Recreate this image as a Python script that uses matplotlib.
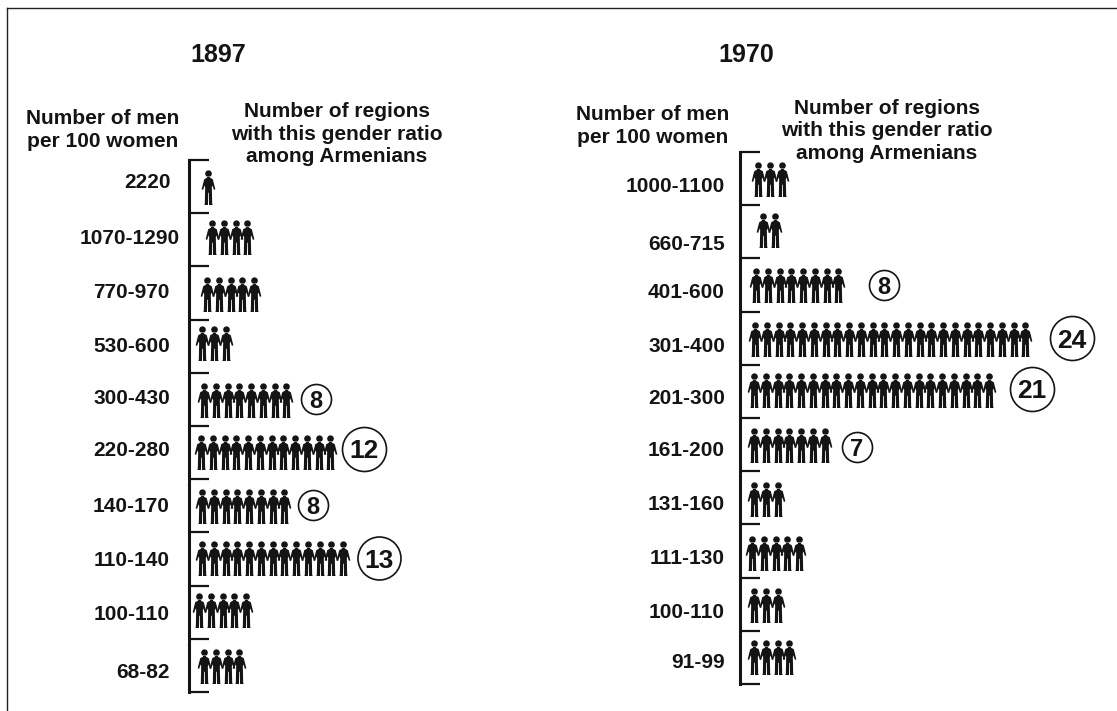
import numpy as np
import matplotlib
matplotlib.use("Agg")
import matplotlib.pyplot as plt
from matplotlib.path import Path
from matplotlib.lines import Line2D

plt.rcParams['font.family'] = ['Liberation Sans', 'DejaVu Sans']
plt.rcParams['font.weight'] = 'bold'

W, H = 1117, 711
INK = '#141414'

# data
ratios_1897 = ['2220', '1070-1290', '770-970', '530-600', '300-430',
               '220-280', '140-170', '110-140', '100-110', '68-82']
regions_1897 = [1, 4, 5, 3, 8, 12, 8, 13, 5, 4]
ratios_1970 = ['1000-1100', '660-715', '401-600', '301-400', '201-300',
               '161-200', '131-160', '111-130', '100-110', '91-99']
regions_1970 = [3, 2, 8, 24, 21, 7, 3, 5, 3, 4]

# layout, in pixels of the scan (rows are a bit uneven there)
PERSON_STEP = 11.75
left_1897 = dict(spine=189, top=160, bottom=692,
                 start=[208, 212, 207, 202, 204, 201, 202, 202, 199, 204],
                 person_y=[187, 237, 294, 343, 400, 452, 506, 558, 610, 666],
                 label_y=[183, 239, 293, 347, 398, 451, 506, 560, 615, 672],
                 label_r=[171, 180, 170, 170, 170, 170, 170, 170, 170, 170],
                 badges={4: (316, 399, 15), 5: (364, 449, 22),
                         6: (313, 505, 15), 7: (379, 558, 21.5)})
left_1970 = dict(spine=740, top=152, bottom=684,
                 start=[758, 763, 756, 755, 754, 754, 754, 752, 754, 754],
                 person_y=[179, 230, 285, 339, 390, 445, 499, 553, 605, 657],
                 label_y=[187, 245, 293, 347, 398, 451, 505, 558, 612, 663],
                 label_r=[725] * 10,
                 badges={2: (884, 285, 15), 3: (1072, 338, 22),
                         4: (1032, 389, 22), 5: (857, 447, 15)})


def make_person():
    # little figure holding hands, y from -1 to 1
    head = Path.circle((0, 0.79), 0.19)
    body = [(-0.07, 0.62), (0.07, 0.62), (0.10, 0.55), (0.24, 0.48), (0.29, 0.30),
            (0.39, -0.10), (0.31, -0.14), (0.22, 0.12), (0.19, 0.02), (0.21, -0.93),
            (0.24, -1.0), (0.03, -1.0), (0.02, -0.30), (-0.02, -0.30), (-0.03, -1.0),
            (-0.24, -1.0), (-0.21, -0.93), (-0.19, 0.02), (-0.22, 0.12), (-0.31, -0.14),
            (-0.39, -0.10), (-0.29, 0.30), (-0.24, 0.48), (-0.10, 0.55), (-0.07, 0.62)]
    return Path.make_compound_path(head, Path(body, closed=True))


person = make_person()
fig = plt.figure(figsize=(W / 100, H / 100), dpi=100, facecolor='white')


def draw_panel(ratios, regions, lay, right):
    left, top, bottom = lay['spine'], lay['top'], lay['bottom']
    ax = fig.add_axes([left / W, 1 - bottom / H, (right - left) / W, (bottom - top) / H])
    ax.patch.set_alpha(0)
    ax.set_xlim(0, (right - left) / PERSON_STEP)
    ax.set_ylim(len(ratios), 0)
    for s in ['top', 'right', 'bottom']:
        ax.spines[s].set_visible(False)
    ax.spines['left'].set_linewidth(2.2)
    ax.spines['left'].set_color(INK)
    ax.set_yticks(np.arange(len(ratios) + 1))
    ax.set_yticklabels([])
    ax.set_xticks([])
    ax.tick_params(axis='y', direction='in', length=14.5, width=1.6, color=INK)

    row_h = (bottom - top) / len(ratios)
    for i, (lab, n) in enumerate(zip(ratios, regions)):
        x0 = (lay['start'][i] - left) / PERSON_STEP
        y0 = (lay['person_y'][i] - top) / row_h
        ax.scatter(x0 + np.arange(n), np.full(n, y0), marker=person, s=635,
                   color=INK, linewidths=0, clip_on=False)
        ax.text((lay['label_r'][i] - left) / PERSON_STEP, (lay['label_y'][i] - top) / row_h,
                lab, ha='right', va='center', fontsize=15, color=INK, clip_on=False)
        if i in lay['badges']:
            bx, by, r = lay['badges'][i]
            bx = (bx - left) / PERSON_STEP
            by = (by - top) / row_h
            ax.scatter([bx], [by], s=(2 * r * 0.72) ** 2, facecolor='white', edgecolor=INK,
                       linewidths=1.2, clip_on=False, zorder=3)
            ax.text(bx, by, str(n), ha='center', va='center_baseline', zorder=4, color=INK,
                    fontsize=19 if n > 9 else 17)


def px_text(x, y, s, size=15, ha='center'):
    fig.text(x / W, 1 - y / H, s, ha=ha, va='center', fontsize=size, color=INK,
             linespacing=1.25)


draw_panel(ratios_1897, regions_1897, left_1897, 560)
draw_panel(ratios_1970, regions_1970, left_1970, 1110)

px_text(218, 55, '1897', size=18)
px_text(746, 55, '1970', size=18)
px_text(103, 130, 'Number of men\nper 100 women')
px_text(337, 134, 'Number of regions\nwith this gender ratio\namong Armenians')
px_text(653, 126, 'Number of men\nper 100 women')
px_text(887, 131, 'Number of regions\nwith this gender ratio\namong Armenians')

# scan border, top and left only
fig.add_artist(Line2D([7 / W, 7 / W], [0, 1 - 8 / H], color='#222222', lw=1.0))
fig.add_artist(Line2D([7 / W, 1], [1 - 8 / H, 1 - 8 / H], color='#222222', lw=1.0))

fig.savefig('out.png', dpi=100, facecolor='white')
